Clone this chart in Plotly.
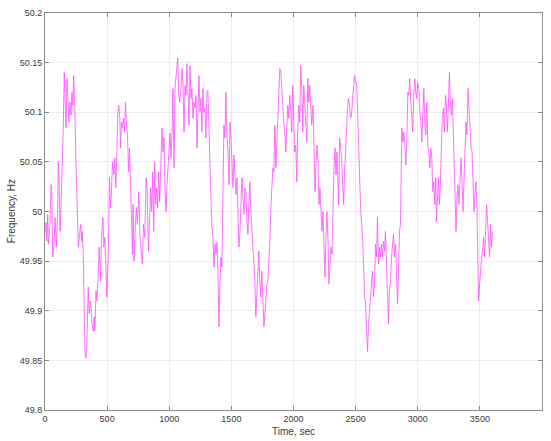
import plotly.graph_objects as go

# Grid frequency record, one hour of samples (seconds, Hz)
time_sec = [
    0, 9, 14, 22, 27, 40, 48, 54, 62, 70, 81, 91, 102, 107, 113, 121, 129, 140, 147, 155,
    164, 169, 177, 185, 193, 201, 209, 217, 225, 230, 238, 249, 260, 268, 276, 287, 295, 300, 308, 313,
    321, 329, 337, 348, 356, 364, 370, 378, 388, 396, 402, 410, 418, 428, 436, 447, 455, 466, 474, 482,
    493, 498, 509, 519, 527, 535, 543, 554, 562, 570, 578, 586, 594, 602, 608, 616, 624, 632, 640, 648,
    656, 664, 672, 680, 688, 696, 704,
    709, 717, 728, 736, 744, 755, 763, 774, 784, 792, 803, 814, 822, 832, 843, 851, 859, 867, 875, 883,
    891, 899, 907, 915, 923, 931, 942, 950, 958, 966, 974, 982, 990, 998, 1006, 1014, 1022, 1030, 1038, 1046,
    1055, 1063, 1068, 1076, 1084, 1092, 1103, 1111, 1119, 1127, 1135, 1143, 1151, 1159, 1167, 1175, 1183, 1191, 1199, 1207,
    1215, 1223, 1231, 1239, 1247, 1255, 1263, 1271, 1279, 1287, 1295, 1303, 1311, 1320, 1328, 1336, 1344, 1352, 1360, 1368,
    1376, 1384, 1392, 1400, 1408, 1416,
    1424, 1432, 1440, 1448, 1456, 1464, 1473, 1481, 1489, 1497, 1505, 1513, 1521, 1529, 1537, 1545, 1553, 1561, 1569, 1577,
    1585, 1593, 1601, 1609, 1617, 1625, 1633, 1641, 1649, 1657, 1665, 1673, 1681, 1689, 1697, 1705, 1713, 1721, 1729, 1737,
    1745, 1753, 1762, 1770, 1778, 1786, 1794, 1802, 1810, 1818, 1826, 1834, 1842, 1850, 1858, 1866, 1874, 1882, 1890, 1898,
    1906, 1914, 1922, 1930, 1938, 1946, 1954, 1962, 1970, 1978, 1986, 1994, 2002, 2010, 2018, 2026, 2034, 2042, 2050, 2058,
    2067, 2075, 2083, 2091, 2099, 2107, 2115, 2123, 2131, 2139,
    2147, 2157, 2165, 2173, 2181, 2189, 2197, 2205, 2213, 2221, 2229, 2237, 2245, 2253, 2261, 2269, 2277, 2285, 2294, 2302,
    2310, 2318, 2326, 2334, 2342, 2350, 2358, 2363, 2371, 2379, 2387, 2395, 2403, 2411, 2419, 2427, 2435, 2443, 2451, 2459,
    2467, 2476, 2484, 2492, 2500, 2508, 2516, 2524, 2532, 2540, 2548, 2556, 2564, 2572, 2580, 2588, 2596, 2604, 2612, 2620,
    2628, 2636, 2644, 2652, 2660, 2668, 2676, 2684, 2692, 2700, 2708, 2716, 2724, 2732, 2740, 2748, 2756, 2764, 2772, 2781,
    2789, 2797, 2805, 2813, 2821, 2829, 2837, 2845, 2853, 2861,
    2872, 2880, 2888, 2896, 2904, 2912, 2920, 2928, 2936, 2944, 2952, 2960, 2968, 2976, 2984, 2992, 3000, 3008, 3017, 3025,
    3033, 3041, 3049, 3057, 3065, 3073, 3081, 3089, 3097, 3105, 3113, 3121, 3129, 3137, 3145, 3150, 3158, 3166, 3174, 3182,
    3190, 3198, 3207, 3215, 3223, 3231, 3239, 3247, 3255, 3263, 3271, 3279, 3287, 3295, 3303, 3308, 3316, 3324, 3332, 3340,
    3348, 3356, 3364, 3372, 3380, 3388, 3396, 3405, 3413, 3421, 3429, 3437, 3445, 3453, 3461, 3469, 3477, 3485, 3490, 3498,
    3506, 3514, 3522, 3530, 3538, 3546, 3554, 3562, 3570, 3578, 3586, 3594, 3600,
]

freq_hz = [
    49.979, 49.989, 49.970, 49.997, 49.967, 49.987, 50.027, 50.024, 49.954, 49.960, 49.994, 49.964, 50.000, 50.050, 50.034, 49.980, 50.004, 50.050, 50.084, 50.140,
    50.110, 50.084, 50.134, 50.114, 50.090, 50.110, 50.097, 50.120, 50.107, 50.137, 50.114, 50.050, 49.987, 49.964, 49.974, 49.987, 49.970, 49.980, 49.957, 49.890,
    49.860, 49.852, 49.867, 49.924, 49.897, 49.910, 49.904, 49.887, 49.879, 49.894, 49.880, 49.920, 49.910, 49.934, 49.964, 49.930, 49.974, 49.994, 49.964, 49.974,
    49.937, 49.914, 49.954, 50.034, 50.004, 50.020, 50.050, 50.037, 50.054, 50.024, 50.057, 50.100, 50.107, 50.094, 50.064, 50.090, 50.084, 50.094, 50.080, 50.110,
    50.087, 50.077, 50.040, 50.064, 50.030, 49.990, 49.957,
    50.007, 49.950, 49.987, 50.004, 49.987, 50.020, 49.977, 49.960, 49.947, 49.987, 49.974, 50.034, 50.020, 49.960, 50.000, 50.024, 50.000, 50.040, 49.980, 50.050,
    50.007, 50.024, 50.004, 50.040, 50.010, 50.050, 50.084, 50.060, 50.074, 50.020, 50.000, 50.027, 50.047, 50.074, 50.079, 50.054, 50.077, 50.124, 50.044, 50.124,
    50.140, 50.147, 50.155, 50.120, 50.110, 50.120, 50.144, 50.127, 50.080, 50.127, 50.117, 50.149, 50.120, 50.087, 50.147, 50.114, 50.124, 50.094, 50.110, 50.104,
    50.117, 50.064, 50.100, 50.137, 50.100, 50.114, 50.080, 50.124, 50.100, 50.104, 50.074, 50.120, 50.122, 50.074, 50.037, 50.010, 49.984, 49.974, 49.944, 49.967,
    49.957, 49.969, 49.940, 49.884, 49.927, 49.954,
    49.944, 50.047, 50.087, 50.074, 50.120, 50.077, 50.060, 50.027, 50.090, 50.074, 50.047, 50.024, 50.057, 50.037, 50.017, 50.034, 49.984, 49.964, 49.980, 50.007,
    50.034, 50.017, 49.997, 50.024, 50.020, 49.990, 49.977, 50.007, 50.030, 50.000, 49.974, 49.964, 49.950, 49.930, 49.894, 49.920, 49.947, 49.960, 49.927, 49.914,
    49.940, 49.920, 49.884, 49.897, 49.920, 49.927, 49.930, 49.947, 49.970, 50.004, 50.020, 50.044, 50.040, 50.087, 50.044, 50.074, 50.100, 50.124, 50.144, 50.140,
    50.127, 50.107, 50.090, 50.080, 50.060, 50.094, 50.107, 50.094, 50.117, 50.100, 50.080, 50.127, 50.074, 50.060, 50.067, 50.030, 50.080, 50.107, 50.090, 50.147,
    50.124, 50.080, 50.127, 50.110, 50.094, 50.070, 50.134, 50.110, 50.127, 50.104,
    50.087, 50.107, 50.060, 50.020, 50.050, 50.067, 50.050, 50.007, 50.024, 50.000, 49.980, 50.000, 49.954, 49.934, 49.974, 50.000, 49.974, 49.927, 49.947, 49.964,
    49.957, 50.007, 50.044, 50.064, 50.037, 50.060, 50.037, 50.007, 50.074, 50.067, 50.054, 50.024, 50.007, 50.040, 50.067, 50.094, 50.104, 50.114, 50.107, 50.094,
    50.097, 50.114, 50.127, 50.137, 50.130, 50.130, 50.100, 50.064, 50.027, 50.004, 49.987, 49.974, 49.947, 49.914, 49.907, 49.880, 49.859, 49.887, 49.900, 49.917,
    49.927, 49.940, 49.914, 49.927, 49.967, 49.954, 49.994, 49.947, 49.964, 49.954, 49.967, 49.954, 49.970, 49.960, 49.980, 49.947, 49.907, 49.887, 49.920, 49.930,
    49.954, 49.967, 49.977, 49.954, 49.967, 49.940, 49.907, 49.940, 49.980, 49.987,
    50.084, 50.070, 50.080, 50.067, 50.047, 50.074, 50.120, 50.117, 50.134, 50.110, 50.094, 50.080, 50.117, 50.134, 50.120, 50.114, 50.130, 50.124, 50.100, 50.090,
    50.070, 50.104, 50.124, 50.090, 50.077, 50.110, 50.067, 50.060, 50.044, 50.064, 50.054, 50.020, 50.030, 50.007, 50.034, 49.990, 50.014, 50.034, 50.007, 50.027,
    50.064, 50.094, 50.104, 50.080, 50.117, 50.107, 50.080, 50.114, 50.140, 50.110, 50.097, 50.114, 50.077, 50.034, 50.014, 49.980, 50.014, 50.027, 50.007, 50.027,
    50.054, 50.034, 50.000, 50.030, 50.057, 50.090, 50.077, 50.124, 50.104, 50.084, 50.064, 50.060, 50.027, 50.000, 50.020, 50.030, 50.000, 49.947, 49.910, 49.927,
    49.947, 49.954, 49.960, 49.974, 49.954, 49.980, 50.007, 49.990, 49.967, 49.954, 49.987, 49.964, 49.980,
]

x_ticks = [0, 500, 1000, 1500, 2000, 2500, 3000, 3500, 4000]
y_ticks = [49.8, 49.85, 49.9, 49.95, 50.0, 50.05, 50.1, 50.15, 50.2]
y_tick_text = ["49.8", "49.85", "49.9", "49.95", "50", "50.05", "50.1", "50.15", "50.2"]

FONT = "Liberation Sans, Arial, Helvetica, sans-serif"
AXIS_GREY = "#8c8c8c"
TEXT_GREY = "#3a3a3a"
GRID = "#ececec"

fig = go.Figure()
fig.add_trace(go.Scatter(
    x=time_sec, y=freq_hz, mode="lines",
    line=dict(color="#ff4dff", width=0.8),
    showlegend=False, hoverinfo="skip",
))

axis_common = dict(
    showline=True, linecolor=AXIS_GREY, linewidth=1, mirror="ticks",
    ticks="inside", ticklen=4, tickcolor=AXIS_GREY, tickwidth=1,
    showgrid=True, gridcolor=GRID, gridwidth=1, zeroline=False,
    tickfont=dict(family=FONT, size=9, color=TEXT_GREY),
)

fig.update_xaxes(range=[0, 4000], tickvals=x_ticks, **axis_common)
fig.update_yaxes(range=[49.8, 50.2], tickvals=y_ticks, ticktext=y_tick_text, **axis_common)

fig.update_layout(
    width=551, height=441,
    margin=dict(l=45, r=8, t=10, b=31),
    paper_bgcolor="white", plot_bgcolor="white",
    font=dict(family=FONT, color=TEXT_GREY),
    annotations=[
        dict(text="Time, sec", xref="paper", yref="paper", x=0.5, y=-0.053,
             yanchor="middle", xanchor="center", showarrow=False,
             font=dict(family=FONT, size=10, color=TEXT_GREY)),
        dict(text="Frequency, Hz", xref="paper", yref="paper", x=-0.067, y=0.5,
             textangle=-90, xanchor="center", yanchor="middle", showarrow=False,
             font=dict(family=FONT, size=10, color=TEXT_GREY)),
    ],
)

fig.write_html("out.html")
